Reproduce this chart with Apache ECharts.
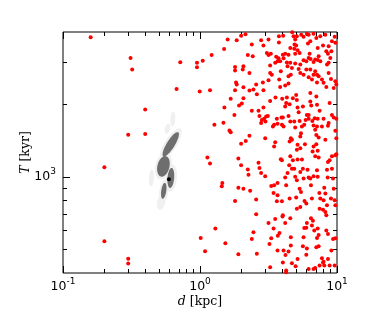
<!DOCTYPE html>
<html><head><meta charset="utf-8">
<script src="https://cdn.jsdelivr.net/npm/echarts@6/dist/echarts.min.js"></script>
<style>html,body{margin:0;padding:0;background:#fff}#c{width:374px;height:312px}</style>
</head><body><div id="c"></div>
<script>
// ---- axis ticks / labels ----
const xMajorTicks = [0.1, 1, 10];
const xTickExponents = ['-1', '0', '1'];
const xMinorTicks = [0.2,0.3,0.4,0.5,0.6,0.7,0.8,0.9,2,3,4,5,6,7,8,9];
const yMajorTicks = [1000];
const yTickExponents = ['3'];
const yMinorTicks = [500,600,700,800,900,2000,3000];
const xName = ['d', ' [kpc]'];
const yName = ['T', ' [kyr]'];
const xRange = [0.1, 10];
const yRange = [400, 4000];

// ---- red points: [log10 d (kpc), log10 T (kyr)] ----
const redLogPoints = [
[-0.798,3.580],[-0.507,3.494],[-0.495,3.446],[-0.400,3.281],[-0.524,3.176],[-0.400,3.179],[-0.698,3.041],[-0.698,2.734],[-0.524,2.661],[-0.524,2.641],[-0.171,3.366],[-0.144,3.477],[-0.022,3.474],[-0.022,3.456],[-0.002,3.355],
[0.020,3.483],[0.085,3.507],[0.176,3.532],[0.202,3.571],[0.268,3.568],[0.300,3.587],[0.332,3.593],[0.366,3.605],[0.378,3.550],[0.444,3.605],[0.446,3.568],[0.463,3.546],[0.500,3.571],[0.488,3.515],[0.500,3.507],[0.517,3.512],[0.349,3.507],[0.385,3.501],[0.576,3.584],[0.607,3.587],[0.576,3.559],[0.556,3.499],[0.573,3.493],[0.566,3.481],[0.549,3.474],[0.585,3.481],[0.605,3.508],[0.610,3.493],[0.622,3.512],[0.646,3.508],[0.659,3.536],[0.673,3.601],[0.683,3.584],[0.695,3.571],[0.690,3.550],[0.688,3.533],[0.702,3.546],[0.712,3.526],[0.695,3.512],[0.727,3.515],[0.707,3.584],[0.739,3.591],[0.756,3.582],[0.780,3.595],[0.788,3.554],[0.793,3.591],[0.805,3.564],[0.800,3.512],[0.829,3.595],[0.849,3.577],[0.859,3.536],[0.866,3.501],[0.878,3.584],[0.898,3.546],[0.915,3.591],[0.922,3.522],[0.934,3.512],[0.939,3.543],[0.951,3.494],[0.959,3.522],[0.963,3.564],[0.983,3.582],[0.988,3.557],
[0.634,3.476],[0.639,3.460],[0.659,3.474],[0.695,3.471],[0.732,3.467],[0.756,3.485],[0.776,3.481],[0.793,3.494],[0.807,3.490],[0.829,3.478],[0.841,3.488],[0.859,3.486],[0.878,3.481],[0.927,3.467],[0.939,3.474],
[0.256,3.457],[0.256,3.442],[0.317,3.460],[0.312,3.446],[0.361,3.432],[0.263,3.393],[0.268,3.384],[0.317,3.373],[0.410,3.384],[0.459,3.393],[0.500,3.402],[0.512,3.432],[0.524,3.425],[0.512,3.463],[0.590,3.439],[0.578,3.405],[0.585,3.374],[0.622,3.380],[0.646,3.388],[0.646,3.418],[0.663,3.425],[0.671,3.453],[0.720,3.449],[0.732,3.432],[0.756,3.425],[0.776,3.446],[0.793,3.414],[0.805,3.446],[0.817,3.405],[0.829,3.425],[0.841,3.439],[0.854,3.425],[0.866,3.418],[0.854,3.393],[0.890,3.405],[0.902,3.391],[0.922,3.374],[0.939,3.432],[0.956,3.407],[0.988,3.398],[0.995,3.384],[0.976,3.370],[0.073,3.360],[0.256,3.360],[0.361,3.359],[0.390,3.363],[0.463,3.360],
[0.105,3.217],[0.171,3.226],[0.178,3.289],[0.224,3.325],[0.215,3.193],[0.224,3.186],[0.251,3.258],[0.285,3.297],[0.305,3.305],[0.317,3.327],[0.361,3.172],[0.334,3.150],[0.300,3.138],[0.378,3.275],[0.427,3.275],[0.415,3.344],[0.434,3.254],[0.451,3.237],[0.446,3.224],[0.463,3.289],[0.483,3.251],[0.495,3.254],[0.478,3.231],[0.468,3.242],[0.512,3.316],[0.532,3.210],[0.541,3.217],[0.551,3.330],[0.561,3.242],[0.566,3.221],[0.476,3.161],[0.549,3.145],[0.541,3.127],[0.595,3.247],[0.605,3.247],[0.600,3.325],[0.598,3.217],[0.610,3.210],[0.622,3.293],[0.629,3.307],[0.634,3.330],[0.646,3.254],[0.654,3.302],[0.659,3.231],[0.663,3.161],[0.654,3.148],[0.671,3.155],[0.678,3.327],[0.688,3.231],[0.695,3.206],[0.702,3.341],[0.707,3.320],[0.712,3.289],[0.720,3.269],[0.727,3.233],[0.732,3.168],[0.737,3.182],[0.744,3.210],[0.751,3.293],[0.761,3.217],[0.766,3.136],[0.771,3.237],[0.780,3.258],[0.793,3.258],[0.793,3.242],[0.805,3.314],[0.805,3.349],[0.812,3.297],[0.820,3.233],[0.829,3.214],[0.837,3.244],[0.849,3.334],[0.854,3.300],[0.841,3.196],[0.849,3.175],[0.854,3.210],[0.859,3.242],[0.866,3.164],[0.849,3.136],[0.829,3.127],[0.859,3.109],[0.822,3.106],[0.873,3.275],[0.890,3.210],[0.902,3.242],[0.915,3.155],[0.934,3.213],[0.939,3.224],[0.946,3.307],[0.963,3.258],[0.976,3.247],[0.988,3.192],[0.995,3.161],[0.995,3.242],[0.732,3.120],[0.712,3.134],[0.707,3.113],
[0.054,3.081],[0.073,3.056],[0.163,2.976],[0.159,2.962],[0.256,2.901],[0.280,3.077],[0.300,3.049],[0.280,2.956],[0.317,2.952],[0.349,3.032],[0.354,3.010],[0.366,2.943],[0.410,2.907],[0.410,2.846],[0.427,3.060],[0.434,3.038],[0.446,3.017],[0.476,3.003],[0.520,2.963],[0.537,2.934],[0.541,2.966],[0.566,2.976],[0.566,2.925],[0.561,2.900],[0.598,2.900],[0.590,3.074],[0.598,3.070],[0.605,2.842],[0.622,2.998],[0.629,2.966],[0.639,3.017],[0.651,3.049],[0.659,3.086],[0.654,2.911],[0.671,3.035],[0.678,3.070],[0.688,3.035],[0.695,3.001],[0.707,2.987],[0.702,2.915],[0.712,3.073],[0.727,2.952],[0.732,3.021],[0.737,2.938],[0.707,2.869],[0.732,2.876],[0.744,3.073],[0.751,3.035],[0.756,2.994],[0.763,2.901],[0.776,2.890],[0.785,3.031],[0.793,2.998],[0.805,2.994],[0.810,2.966],[0.817,2.911],[0.829,3.003],[0.841,3.086],[0.854,3.028],[0.859,3.001],[0.866,3.081],[0.871,2.934],[0.873,2.869],[0.878,2.911],[0.902,2.904],[0.907,2.956],[0.915,2.932],[0.927,3.031],[0.932,2.998],[0.934,3.063],[0.946,3.070],[0.963,3.035],[0.971,2.994],[0.976,2.952],[0.983,2.904],[0.988,2.883],[0.956,2.911],[0.927,2.883],[0.915,2.855],[0.922,2.842],[0.898,2.865],[0.963,3.086],[0.988,3.091],[0.995,3.095],
[0.005,2.747],[0.037,2.692],[0.112,2.787],[0.185,2.725],[0.280,2.680],[0.378,2.743],[0.390,2.771],[0.415,2.682],[0.500,2.810],[0.507,2.722],[0.512,2.626],[0.520,2.746],[0.537,2.787],[0.549,2.826],[0.566,2.695],[0.568,2.757],[0.580,2.768],[0.602,2.837],[0.605,2.646],[0.610,2.695],[0.624,2.677],[0.622,2.810],[0.629,2.612],[0.646,2.691],[0.659,2.829],[0.663,2.750],[0.663,2.716],[0.671,2.642],[0.698,2.630],[0.712,2.660],[0.751,2.713],[0.756,2.750],[0.761,2.789],[0.776,2.790],[0.780,2.704],[0.776,2.678],[0.780,2.810],[0.793,2.619],[0.810,2.829],[0.817,2.799],[0.824,2.819],[0.829,2.619],[0.834,2.778],[0.841,2.623],[0.849,2.709],[0.854,2.747],[0.859,2.787],[0.866,2.760],[0.866,2.713],[0.873,2.633],[0.890,2.663],[0.898,2.646],[0.902,2.649],[0.907,2.633],[0.922,2.778],[0.934,2.764],[0.934,2.660],[0.946,2.633],[0.959,2.695],[0.971,2.743],[0.983,2.633],[0.988,2.746],[0.415,2.598],[0.629,2.605]
];

// ---- best-estimate marker ----
const markerLog = [-0.227, 2.991];

// ---- density contours: [log d1, log T1, log d2, log T2, width/length] ----
const lightContours = [
[-0.195,3.272,-0.203,3.210,0.33],
[-0.230,3.222,-0.245,3.180,0.5],
[-0.143,3.201,-0.285,3.073,0.33],
[-0.241,3.102,-0.293,2.990,0.57],
[-0.198,3.052,-0.219,2.940,0.4],
[-0.249,2.990,-0.278,2.894,0.39],
[-0.351,3.031,-0.358,2.961,0.3],
[-0.271,2.927,-0.296,2.865,0.52]
];
const darkContours = [
[-0.159,3.186,-0.268,3.086,0.28],
[-0.249,3.087,-0.285,3.002,0.57],
[-0.207,3.038,-0.219,2.955,0.33],
[-0.256,2.976,-0.273,2.910,0.31]
];

const p10 = v => Math.pow(10, v);
const toReal = arr => arr.map(r => [p10(r[0]), p10(r[1])]);
const contourReal = arr => arr.map(r => [p10(r[0]), p10(r[1]), p10(r[2]), p10(r[3]), r[4]]);

function ellipseRenderer(color) {
  return function (params, api) {
    const a = api.coord([api.value(0), api.value(1)]);
    const b = api.coord([api.value(2), api.value(3)]);
    const asp = api.value(4);
    const cx = (a[0] + b[0]) / 2, cy = (a[1] + b[1]) / 2;
    const dx = b[0] - a[0], dy = b[1] - a[1];
    const len = Math.hypot(dx, dy) || 1;
    const ux = dx / len, uy = dy / len;
    const ra = len / 2, rb = ra * asp;
    const pts = [];
    for (let i = 0; i < 48; i++) {
      const t = i / 48 * 2 * Math.PI;
      pts.push([cx + ux * ra * Math.cos(t) - uy * rb * Math.sin(t),
                cy + uy * ra * Math.cos(t) + ux * rb * Math.sin(t)]);
    }
    return { type: 'polygon', shape: { points: pts }, style: { fill: color } };
  };
}

const tickFont = 'DejaVu Sans';
const labelRich = {
  b: { fontFamily: tickFont, fontSize: 12.5, color: '#000', lineHeight: 20 },
  s: { fontFamily: tickFont, fontSize: 9, color: '#000', lineHeight: 9, verticalAlign: 'top' }
};
const nameRich = {
  i: { fontFamily: 'DejaVu Serif', fontStyle: 'italic', fontSize: 12.5, color: '#000' },
  n: { fontFamily: 'DejaVu Serif', fontSize: 12.5, color: '#000' }
};
const lineCol = '#000';

function xAxisDef(pos, ticks, len, withLabel) {
  const ax = {
    type: 'log', logBase: 10, min: xRange[0], max: xRange[1], position: pos,
    axisLine: { show: false, onZero: false },
    splitLine: { show: false },
    axisTick: { show: true, inside: true, length: len, customValues: ticks, lineStyle: { color: lineCol, width: 1 } },
    axisLabel: { show: false }
  };
  if (withLabel) {
    ax.axisLabel = {
      show: true, customValues: xMajorTicks, margin: 4, rich: labelRich,
      showMinLabel: true, showMaxLabel: true,
      formatter: v => '{b|10}{s|' + xTickExponents[xMajorTicks.findIndex(t => Math.abs(t - v) / t < 1e-6)] + '}'
    };
    ax.name = '{i|' + xName[0] + '}{n|' + xName[1] + '}';
    ax.nameLocation = 'middle';
    ax.nameGap = 22;
    ax.nameMoveOverlap = false;
    ax.nameTextStyle = { rich: nameRich };
  }
  return ax;
}
function yAxisDef(pos, ticks, len, withLabel) {
  const ax = {
    type: 'log', logBase: 10, min: yRange[0], max: yRange[1], position: pos,
    axisLine: { show: false, onZero: false },
    splitLine: { show: false },
    axisTick: { show: true, inside: true, length: len, customValues: ticks, lineStyle: { color: lineCol, width: 1 } },
    axisLabel: { show: false }
  };
  if (withLabel) {
    ax.axisLabel = {
      show: true, customValues: yMajorTicks, margin: 7, rich: labelRich,
      formatter: v => '{b|10}{s|' + yTickExponents[yMajorTicks.findIndex(t => Math.abs(t - v) / t < 1e-6)] + '}'
    };
    ax.name = '{i|' + yName[0] + '}{n|' + yName[1] + '}';
    ax.nameLocation = 'middle';
    ax.nameGap = 31;
    ax.nameRotate = 90;
    ax.nameMoveOverlap = false;
    ax.nameTextStyle = { rich: nameRich };
  }
  return ax;
}

const chart = echarts.init(document.getElementById('c'), null, { renderer: 'canvas' });
chart.setOption({
  animation: false,
  backgroundColor: '#fff',
  grid: { left: 63, right: 37, top: 32, bottom: 39, containLabel: false, outerBoundsMode: 'none',
          show: true, borderColor: '#000', borderWidth: 1, backgroundColor: 'transparent' },
  xAxis: [
    xAxisDef('bottom', xMajorTicks, 7, true),
    xAxisDef('bottom', xMinorTicks, 4, false),
    xAxisDef('top', xMajorTicks, 7, false),
    xAxisDef('top', xMinorTicks, 4, false)
  ],
  yAxis: [
    yAxisDef('left', yMajorTicks, 7, true),
    yAxisDef('left', yMinorTicks, 4, false),
    yAxisDef('right', yMajorTicks, 7, false),
    yAxisDef('right', yMinorTicks, 4, false)
  ],
  series: [
    { type: 'custom', xAxisIndex: 0, yAxisIndex: 0, renderItem: ellipseRenderer('#f0f0f0'),
      data: contourReal(lightContours), encode: { x: [0, 2], y: [1, 3] }, silent: true, z: 1 },
    { type: 'custom', xAxisIndex: 0, yAxisIndex: 0, renderItem: ellipseRenderer('#6e6e6e'),
      data: contourReal(darkContours), encode: { x: [0, 2], y: [1, 3] }, silent: true, z: 2 },
    { type: 'scatter', xAxisIndex: 0, yAxisIndex: 0, symbol: 'circle', symbolSize: 4,
      itemStyle: { color: '#ff0000', opacity: 1 }, data: toReal(redLogPoints), clip: true, z: 3 },
    { type: 'scatter', xAxisIndex: 0, yAxisIndex: 0, symbol: 'circle', symbolSize: 4,
      itemStyle: { color: '#000', opacity: 1 }, data: toReal([markerLog]), z: 4 }
  ]
});
</script></body></html>
